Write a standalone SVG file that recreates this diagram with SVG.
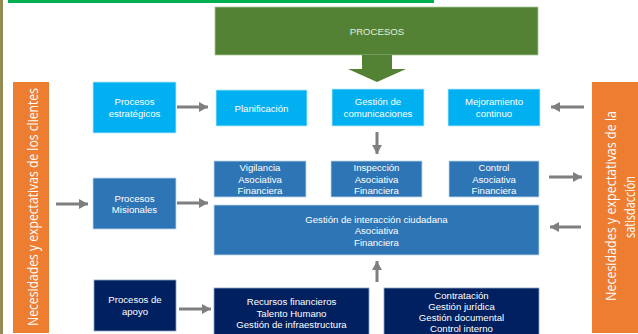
<svg xmlns="http://www.w3.org/2000/svg" width="638" height="334" viewBox="0 0 638 334">
<defs>
<style>
.lb{fill:#00B0F0;stroke:#BFE9FA;stroke-width:0.8}
.mb{fill:#2E75B6;stroke:#BDD7EE;stroke-width:0.8}
.db{fill:#002060;stroke:#8FA3C7;stroke-width:0.8}
.or{fill:#ED7D31}
.t{font-family:"Liberation Sans",Arial,sans-serif;font-size:9.6px;fill:#FFFFFF;text-anchor:middle;dominant-baseline:central}
.ot{font-family:"Open Sans","Noto Sans",sans-serif;font-size:14px;fill:#FFFFFF;text-anchor:middle;dominant-baseline:central}
.ar{stroke:#7F7F7F;stroke-width:3;fill:none;marker-end:url(#ah)}
</style>
<marker id="ah" markerUnits="userSpaceOnUse" markerWidth="10" markerHeight="10" refX="9" refY="5" orient="auto">
<path d="M0,0 L9,5 L0,10 Z" fill="#7F7F7F"/>
</marker>
</defs>
<rect width="638" height="334" fill="#FFFFFF"/>
<rect x="0" y="0" width="3" height="334" fill="#948A54"/>
<rect x="8" y="0" width="426" height="3" fill="#00B050"/>

<g id="procesos">
<rect x="215" y="7" width="323" height="48" fill="#548235" stroke="#A9C79A" stroke-width="0.8"/>
<polygon points="362,55 392,55 392,69 406,69 377,82 348,69 362,69" fill="#548235"/>
<text class="t" x="377" y="31" style="fill:#E2EFDA">PROCESOS</text>
</g>

<g id="necesidades-clientes">
<rect class="or" x="13" y="82" width="36" height="251"/>
<text class="ot" transform="translate(32,207) rotate(-90)" textLength="238" lengthAdjust="spacingAndGlyphs">Necesidades y expectativas de los clientes</text>
</g>

<g id="necesidades-satisfaccion">
<rect class="or" x="592" y="82" width="46" height="251"/>
<text class="ot" transform="translate(610,206) rotate(-90)" textLength="190" lengthAdjust="spacingAndGlyphs">Necesidades y expectativas de la</text>
<text class="ot" transform="translate(629,207) rotate(-90)" textLength="62" lengthAdjust="spacingAndGlyphs">satisdacción</text>
</g>

<g id="procesos-estrategicos">
<rect class="lb" x="93" y="82" width="83" height="51"/>
<text class="t" x="134.5" y="101.5">Procesos</text>
<text class="t" x="134.5" y="113">estratégicos</text>
</g>
<g id="planificacion">
<rect class="lb" x="216" y="90" width="91" height="36"/>
<text class="t" x="261.5" y="108">Planificación</text>
</g>
<g id="gestion-comunicaciones">
<rect class="lb" x="332" y="89" width="92" height="37"/>
<text class="t" x="378" y="101.5">Gestión de</text>
<text class="t" x="378" y="113">comunicaciones</text>
</g>
<g id="mejoramiento">
<rect class="lb" x="448" y="89" width="92" height="37"/>
<text class="t" x="494" y="101.5">Mejoramiento</text>
<text class="t" x="494" y="113">continuo</text>
</g>

<g id="procesos-misionales">
<rect class="mb" x="93" y="178" width="83" height="51"/>
<text class="t" x="134.5" y="198">Procesos</text>
<text class="t" x="134.5" y="209.5">Misionales</text>
</g>
<g id="vigilancia">
<rect class="mb" x="214" y="161" width="92" height="36"/>
<text class="t" x="260" y="167.5">Vigilancia</text>
<text class="t" x="260" y="179">Asociativa</text>
<text class="t" x="260" y="190.5">Financiera</text>
</g>
<g id="inspeccion">
<rect class="mb" x="331" y="161" width="91" height="36"/>
<text class="t" x="376.5" y="167.5">Inspección</text>
<text class="t" x="376.5" y="179">Asociativa</text>
<text class="t" x="376.5" y="190.5">Financiera</text>
</g>
<g id="control">
<rect class="mb" x="449" y="161" width="90" height="36"/>
<text class="t" x="494" y="167.5">Control</text>
<text class="t" x="494" y="179">Asociativa</text>
<text class="t" x="494" y="190.5">Financiera</text>
</g>
<g id="gestion-interaccion">
<rect class="mb" x="214" y="205" width="325" height="50"/>
<text class="t" x="376.5" y="219">Gestión de interacción ciudadana</text>
<text class="t" x="376.5" y="230.5">Asociativa</text>
<text class="t" x="376.5" y="242">Financiera</text>
</g>

<g id="procesos-apoyo">
<rect class="db" x="94" y="280" width="82" height="51"/>
<text class="t" x="135" y="299.5">Procesos de</text>
<text class="t" x="135" y="311">apoyo</text>
</g>
<g id="recursos">
<rect class="db" x="214" y="288" width="155" height="48"/>
<text class="t" x="291.5" y="301.5">Recursos financieros</text>
<text class="t" x="291.5" y="313">Talento Humano</text>
<text class="t" x="291.5" y="324.5">Gestión de infraestructura</text>
</g>
<g id="contratacion">
<rect class="db" x="384" y="288" width="155" height="48"/>
<text class="t" x="461.5" y="295">Contratación</text>
<text class="t" x="461.5" y="306">Gestión jurídica</text>
<text class="t" x="461.5" y="317">Gestión documental</text>
<text class="t" x="461.5" y="328">Control interno</text>
</g>

<g id="connectors">
<line class="ar" x1="177" y1="107" x2="208" y2="107"/>
<line class="ar" x1="56" y1="204" x2="88" y2="204"/>
<line class="ar" x1="177" y1="203" x2="208" y2="203"/>
<line class="ar" x1="179" y1="309" x2="211" y2="309"/>
<line class="ar" x1="377" y1="132" x2="377" y2="154"/>
<line class="ar" x1="377" y1="282" x2="377" y2="261"/>
<line class="ar" x1="584" y1="107" x2="551" y2="107"/>
<line class="ar" x1="549" y1="177" x2="582" y2="177"/>
<line class="ar" x1="581" y1="227" x2="550" y2="227"/>
</g>
</svg>
